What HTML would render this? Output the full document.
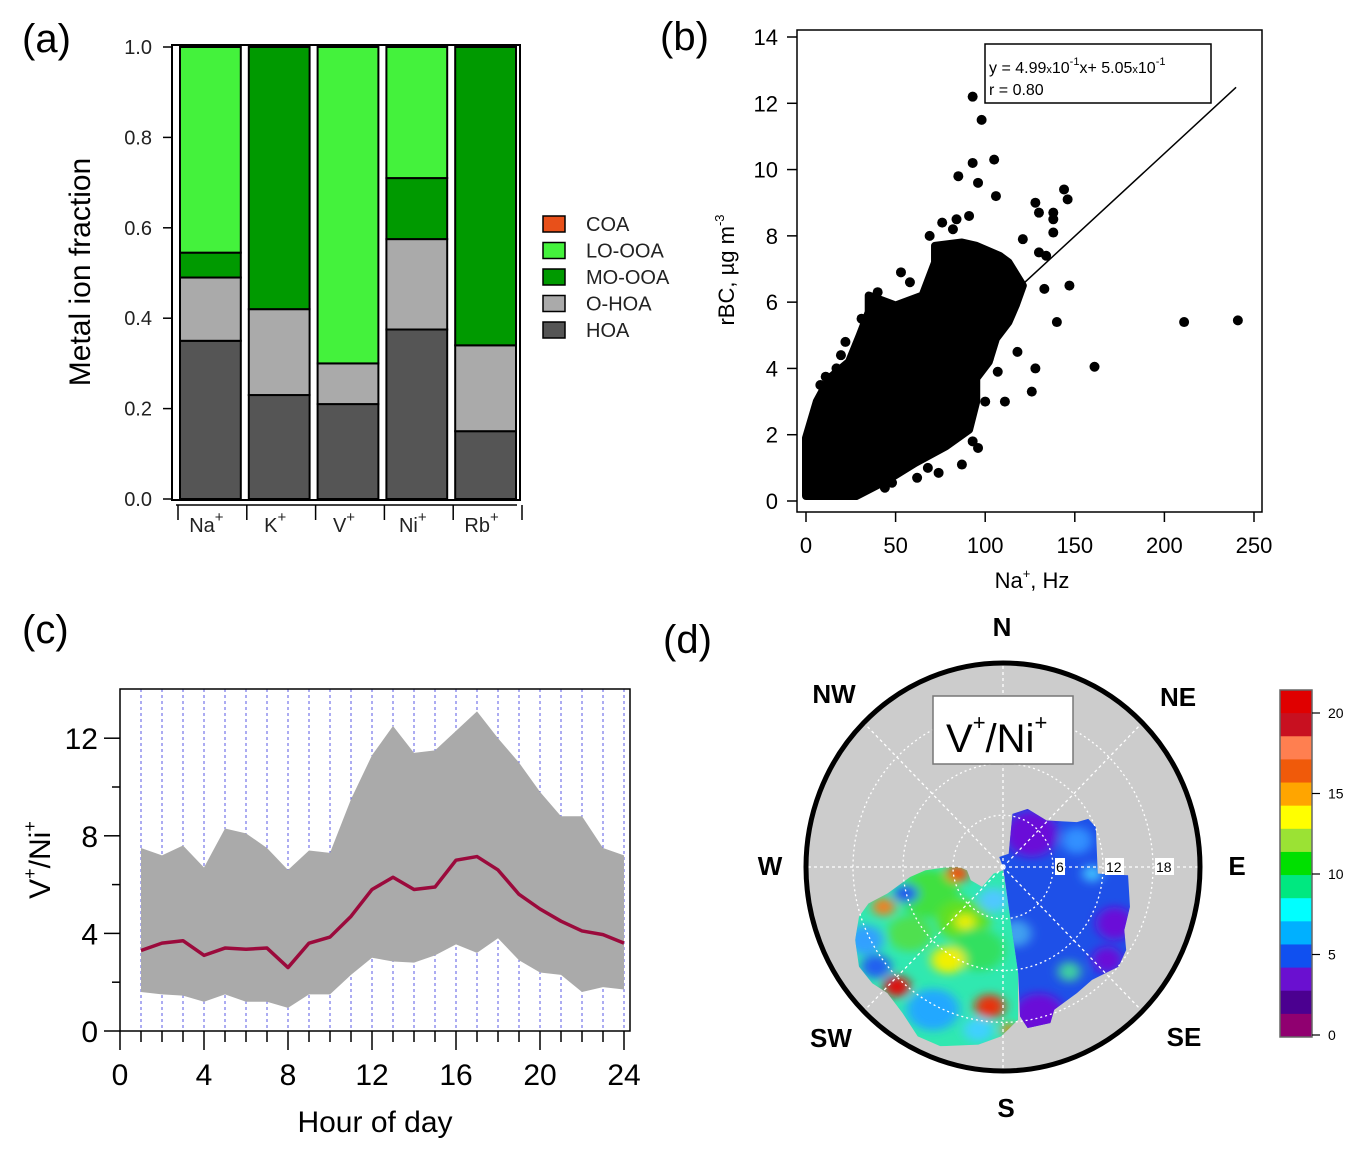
<!DOCTYPE html>
<html><head><meta charset="utf-8"><style>
html,body{margin:0;padding:0;background:#fff;}
svg{display:block;font-family:"Liberation Sans",sans-serif;}
</style></head><body>
<svg id="fig" width="1364" height="1155" viewBox="0 0 1364 1155">
<defs>
<filter id="blur8" x="-20%" y="-20%" width="140%" height="140%"><feGaussianBlur stdDeviation="8"/></filter>
<filter id="blur14" x="-50%" y="-50%" width="200%" height="200%"><feGaussianBlur stdDeviation="14"/></filter>
<clipPath id="westClip"><polygon id="westPolyClip" points=""/></clipPath>
<clipPath id="eastClip"><polygon id="eastPolyClip" points=""/></clipPath>
</defs>
<text x="22" y="52" font-size="40" font-family="Liberation Sans,sans-serif">(a)</text>
<text x="660" y="50" font-size="40">(b)</text>
<text x="22" y="643" font-size="40">(c)</text>
<text x="663" y="653" font-size="40">(d)</text>
<g id="pa"></g>
<g id="pb"></g>
<g id="pc"></g>
<g id="pd"></g>
</svg>
<script>
// ---------- Panel (a) data ----------
const aCategories = ["Na","K","V","Ni","Rb"];
const aSeriesNames = ["HOA","O-HOA","MO-OOA","LO-OOA","COA"];
const aHOA   = [0.35, 0.23, 0.21, 0.375, 0.15];
const aOHOA  = [0.14, 0.19, 0.09, 0.20, 0.19];
const aMOOOA = [0.055,0.58, 0.00, 0.135,0.66];
const aLOOOA = [0.455,0.00, 0.70, 0.29, 0.00];
const aYTicks = [0.0,0.2,0.4,0.6,0.8,1.0];
// ---------- Panel (b) data ----------
const bXTicks = [0,50,100,150,200,250];
const bYTicks = [0,2,4,6,8,10,12,14];
const bCoreX = [0,28,46,61,78,91,95,95,102,106,113,117,121,113,108,95,87,72,72,65,50,35,35,30,24,13,6,0,0];
const bCoreY = [0.15,0.15,0.65,1.15,1.65,2.15,3.0,3.7,4.2,4.9,5.4,5.9,6.5,7.2,7.4,7.7,7.8,7.7,7.2,6.2,5.9,6.2,5.7,5.0,4.2,3.7,3.0,1.9,1.2];
const bPtsX = [93,98,105,93,85,96,106,144,146,128,130,138,138,138,121,130,134,147,133,140,211,241,161,128,118,126,111,96,87,74,68,48,28,19.5,11,31,53,69,76,82,84,91,102,107,100,93,40,58,22,8,115,110,62,44,17,36];
const bPtsY = [12.2,11.5,10.3,10.2,9.8,9.6,9.2,9.4,9.1,9.0,8.7,8.7,8.5,8.1,7.9,7.5,7.4,6.5,6.4,5.4,5.4,5.45,4.05,4.0,4.5,3.3,3.0,1.6,1.1,0.85,1.0,0.55,0.2,4.4,3.75,5.5,6.9,8.0,8.4,8.2,8.5,8.6,4.3,3.9,3.0,1.8,6.3,6.6,4.8,3.5,6.0,6.8,0.7,0.4,4.0,6.0];
const bSlope = 0.0499, bIntercept = 0.505;
// ---------- Panel (c) data ----------
const cHours  = [1,2,3,4,5,6,7,8,9,10,11,12,13,14,15,16,17,18,19,20,21,22,23,24];
const cMedian = [3.3,3.6,3.7,3.1,3.4,3.35,3.4,2.6,3.6,3.85,4.7,5.8,6.3,5.8,5.9,7.0,7.15,6.6,5.6,5.0,4.5,4.1,3.95,3.6];
const cUpper  = [7.5,7.2,7.6,6.7,8.3,8.1,7.5,6.6,7.4,7.3,9.5,11.3,12.5,11.4,11.5,12.3,13.1,12.0,11.0,9.8,8.8,8.8,7.5,7.2];
const cLower  = [1.6,1.5,1.45,1.2,1.5,1.2,1.2,0.95,1.5,1.5,2.3,3.0,2.85,2.8,3.1,3.55,3.2,3.8,2.9,2.4,2.3,1.6,1.8,1.7];
const cXTicks = [0,4,8,12,16,20,24];
const cYTicks = [0,4,8,12];
// ---------- Panel (d) data ----------
const dColorbarTicks = [0,5,10,15,20];
const dColorbarColors = ["#e00000","#c81020","#ff7f50","#f05a0a","#ffa500","#ffff00","#9be234","#00e000","#00e880","#00ffff","#00b0ff","#1050f0","#6a10d0","#4b0090","#900070"];
const dRingLabels = [6,12,18];

const NS="http://www.w3.org/2000/svg";
function mk(parent,tag,attrs,txt){const e=document.createElementNS(NS,tag);for(const k in attrs)e.setAttribute(k,attrs[k]);if(txt!==undefined)e.textContent=txt;parent.appendChild(e);return e;}

// ===== Panel A =====
(function(){
const g=document.getElementById('pa');
const y0=499,y1=47; const ya=v=>y0+(y1-y0)*v;
const left=172,right=520; const slotW=(right-left-4)/5;
const colors={"HOA":"#555555","O-HOA":"#aaaaaa","MO-OOA":"#009a00","LO-OOA":"#44f23c","COA":"#e8501a"};
const series=[aHOA,aOHOA,aMOOOA,aLOOOA];
aCategories.forEach((c,i)=>{
  const x=left+4+i*slotW+4, w=slotW-8; let acc=0;
  series.forEach((s,j)=>{
    const v=s[i]; if(v<=0){return;}
    const r=mk(g,'rect',{x:x,y:ya(acc+v),width:w,height:ya(acc)-ya(acc+v),fill:colors[aSeriesNames[j]],stroke:'#000','stroke-width':2});
    
    
    acc+=v;
  });
  const t=mk(g,'text',{x:x+w/2-4,y:532,'font-size':20,'text-anchor':'middle',fill:'#222'},c);
  
  
  mk(t,'tspan',{dy:-10,'font-size':15},'+');
  const tk=mk(g,'line',{x1:left+4+i*slotW+2,x2:left+4+i*slotW+2,y1:505,y2:520,stroke:'#000','stroke-width':1.5});
  
  
});
mk(g,'line',{x1:left+4+5*slotW+2,x2:left+4+5*slotW+2,y1:505,y2:520,stroke:'#000','stroke-width':1.5});
mk(g,'line',{x1:176,x2:517,y1:505,y2:505,stroke:'#000','stroke-width':1.5});
const fr=mk(g,'rect',{x:left,y:45,width:right-left,height:455,fill:'none',stroke:'#000','stroke-width':2});


aYTicks.forEach(v=>{
  mk(g,'line',{x1:163,x2:left,y1:ya(v),y2:ya(v),stroke:'#000','stroke-width':1.5});
  const t=mk(g,'text',{x:152,y:ya(v)+7,'font-size':20,'text-anchor':'end',fill:'#222'},v.toFixed(1));
  
  
});
const yl=mk(g,'text',{x:0,y:0,'font-size':30,'text-anchor':'middle',transform:'translate(90,272) rotate(-90)'},'Metal  ion  fraction');


const legOrder=["COA","LO-OOA","MO-OOA","O-HOA","HOA"];
legOrder.forEach((n,i)=>{
  const cy=224+i*26.5;
  const b=mk(g,'rect',{x:543,y:cy-8,width:22,height:16,fill:colors[n],stroke:'#000','stroke-width':1.5});
  
  
  const t=mk(g,'text',{x:586,y:cy+7,'font-size':20,fill:'#222'},n);
  
  
});
})();

// ===== Panel B =====
(function(){
const g=document.getElementById('pb');
const xa=v=>806+v*(1254-806)/250, ya=v=>501-v*(501-37)/14;
const fr=mk(g,'rect',{x:797,y:30,width:465,height:482,fill:'none',stroke:'#000','stroke-width':1.5});


let pts=bCoreX.map((x,i)=>xa(x)+','+ya(bCoreY[i])).join(' ');
const core=mk(g,'polygon',{points:pts,fill:'#000',stroke:'#000','stroke-width':8,'stroke-linejoin':'round'});


bPtsX.forEach((x,i)=>{
  const c=mk(g,'circle',{cx:xa(x),cy:ya(bPtsY[i]),r:5,fill:'#000'});
  
  
});
const x1=95,x2=240;
const ln=mk(g,'line',{x1:xa(x1),y1:ya(bSlope*x1+bIntercept),x2:xa(x2),y2:ya(bSlope*x2+bIntercept),stroke:'#000','stroke-width':1.5});


const box=mk(g,'rect',{x:985,y:44,width:226,height:59,fill:'#fff',stroke:'#000','stroke-width':1.5});


const t1=mk(g,'text',{x:989,y:73,'font-size':16},'y = 4.99');
mk(t1,'tspan',{'font-size':11},'x');mk(t1,'tspan',{},'10');mk(t1,'tspan',{dy:-8,'font-size':11},'-1');
mk(t1,'tspan',{dy:8},'x+ 5.05');mk(t1,'tspan',{'font-size':11},'x');mk(t1,'tspan',{},'10');mk(t1,'tspan',{dy:-8,'font-size':11},'-1');
mk(g,'text',{x:989,y:95,'font-size':16},'r = 0.80');
bXTicks.forEach(v=>{
  mk(g,'line',{x1:xa(v),x2:xa(v),y1:512,y2:522,stroke:'#000','stroke-width':1.5});
  const t=mk(g,'text',{x:xa(v),y:553,'font-size':22,'text-anchor':'middle'},v);
  
  
});
bYTicks.forEach(v=>{
  mk(g,'line',{x1:787,x2:797,y1:ya(v),y2:ya(v),stroke:'#000','stroke-width':1.5});
  const t=mk(g,'text',{x:778,y:ya(v)+8,'font-size':22,'text-anchor':'end'},v);
  
  
});
const xl=mk(g,'text',{x:1032,y:588,'font-size':22,'text-anchor':'middle'},'Na');
mk(xl,'tspan',{dy:-10,'font-size':13},'+');mk(xl,'tspan',{dy:10},', Hz');


const yl=mk(g,'text',{x:0,y:0,'font-size':22,'text-anchor':'middle',transform:'translate(734,270) rotate(-90)'},'rBC, µg m');
mk(yl,'tspan',{dy:-10,'font-size':13},'-3');


})();

// ===== Panel C =====
(function(){
const g=document.getElementById('pc');
const xa=v=>120+v*21, ya=v=>1031-v*24.4;
cHours.forEach(h=>{
  const l=mk(g,'line',{x1:xa(h),x2:xa(h),y1:689,y2:1031,stroke:'#3030e0','stroke-width':0.8,'stroke-dasharray':'3,3'});
  
  
});
let up=cHours.map((h,i)=>xa(h)+','+ya(cUpper[i]));
let lo=cHours.map((h,i)=>xa(h)+','+ya(cLower[i])).reverse();
const band=mk(g,'polygon',{points:up.concat(lo).join(' '),fill:'#aaaaaa'});


const med=mk(g,'polyline',{points:cHours.map((h,i)=>xa(h)+','+ya(cMedian[i])).join(' '),fill:'none',stroke:'#9b0a3c','stroke-width':3.5,'stroke-linejoin':'round'});


const fr=mk(g,'rect',{x:120,y:689,width:510,height:342,fill:'none',stroke:'#000','stroke-width':1.5});


for(let h=0;h<=24;h++){const maj=h%4===0;mk(g,'line',{x1:xa(h),x2:xa(h),y1:1031,y2:maj?1050:1042,stroke:'#000','stroke-width':1.5});}
cXTicks.forEach(v=>{const t=mk(g,'text',{x:xa(v),y:1085,'font-size':30,'text-anchor':'middle'},v);
  });
for(let v=0;v<=12;v+=2){mk(g,'line',{x1:v%4===0?104:112,x2:120,y1:ya(v),y2:ya(v),stroke:'#000','stroke-width':1.5});}
cYTicks.forEach(v=>{const t=mk(g,'text',{x:98,y:ya(v)+11,'font-size':30,'text-anchor':'end'},v);
  });
const xl=mk(g,'text',{x:375,y:1132,'font-size':30,'text-anchor':'middle'},'Hour of day');

const yl=mk(g,'text',{x:0,y:0,'font-size':30,'text-anchor':'middle',transform:'translate(50,860) rotate(-90)'},'V');
mk(yl,'tspan',{dy:-14,'font-size':18},'+');mk(yl,'tspan',{dy:14},'/Ni');mk(yl,'tspan',{dy:-14,'font-size':18},'+');

})();

// ===== Panel D =====
(function(){
const g=document.getElementById('pd');
const cx=1003,cy=867,rx=197,ry=204;
const bg=mk(g,'ellipse',{cx:cx,cy:cy,rx:rx,ry:ry,fill:'#cccccc'});

const T='translate(1003,867) scale(0.379,0.332) translate(-665,-680)';
const west=[[665,690],[640,700],[610,740],[580,720],[570,690],[550,680],[520,680],[460,690],[420,710],[360,760],[310,790],[285,830],[275,900],[285,980],[320,1030],[360,1060],[400,1120],[440,1190],[500,1220],[600,1215],[660,1190],[705,1140],[705,1000],[680,800]];
const east=[[665,680],[655,650],[680,640],[690,520],[730,505],[780,540],[860,545],[890,535],[910,560],[915,700],[995,705],[1000,800],[985,870],[990,930],[970,980],[900,1020],[860,1060],[800,1110],[790,1150],[730,1165],[710,1130],[705,1000],[680,800]];
document.getElementById('westPolyClip').setAttribute('points',west.map(p=>p.join(',')).join(' '));
document.getElementById('eastPolyClip').setAttribute('points',east.map(p=>p.join(',')).join(' '));
const fg=mk(g,'g',{transform:T});
const wg=mk(fg,'g',{'clip-path':'url(#westClip)'});

mk(wg,'rect',{x:200,y:600,width:600,height:700,fill:'#30e8b0'});
const wb=mk(wg,'g',{filter:'url(#blur14)'});
[[470,760,80,'#40e040'],[560,840,70,'#60e020'],[600,930,70,'#30e060'],[420,880,60,'#50e050'],[520,960,45,'#f0f000'],[565,845,25,'#f0f000'],[300,900,50,'#30a0ff'],[330,980,40,'#2060f0'],[410,760,30,'#2050f0'],[385,1040,35,'#e01010'],[630,1100,40,'#e83010'],[545,700,30,'#f05010'],[480,1110,70,'#20a8ff'],[600,1170,40,'#40d0ff'],[680,1170,20,'#f08000'],[640,780,40,'#50c8ff'],[350,800,30,'#f08020']].forEach(b=>mk(wb,'ellipse',{cx:b[0],cy:b[1],rx:b[2],ry:b[2]*0.9,fill:b[3]}));
const eg=mk(fg,'g',{'clip-path':'url(#eastClip)'});

mk(eg,'rect',{x:600,y:480,width:450,height:720,fill:'#1e50e8'});
const ebl=mk(eg,'g',{filter:'url(#blur14)'});
[[740,580,70,'#6a10d8'],[960,850,50,'#6a10d8'],[940,960,40,'#6a10d8'],[760,1130,70,'#6a10d8'],[860,600,40,'#3090ff'],[840,995,30,'#40d0a0'],[900,700,25,'#40c0ff'],[700,880,40,'#40a0f0']].forEach(b=>mk(ebl,'ellipse',{cx:b[0],cy:b[1],rx:b[2],ry:b[2],fill:b[3]}));
[50,100,150].forEach(r=>{const c=mk(g,'ellipse',{cx:cx,cy:cy,rx:r,ry:r*ry/rx,fill:'none',stroke:'#fff','stroke-width':1.3,'stroke-dasharray':'2,3'});
  });
for(let k=0;k<8;k++){const a=k*Math.PI/4;mk(g,'line',{x1:cx,y1:cy,x2:cx+rx*Math.cos(a),y2:cy+ry*Math.sin(a),stroke:'#fff','stroke-width':1.3,'stroke-dasharray':'3,3'});}
const ring=mk(g,'ellipse',{cx:cx,cy:cy,rx:rx,ry:ry,fill:'none',stroke:'#000','stroke-width':5});

dRingLabels.forEach((v,i)=>{const x=cx+50*(i+1)+3;mk(g,'rect',{x:x-1,y:858,width:v<10?10:19,height:17,fill:'#fff'});
  const t=mk(g,'text',{x:x,y:872,'font-size':14},v);});
const tb=mk(g,'rect',{x:933,y:696,width:140,height:68,fill:'#fff',stroke:'#777','stroke-width':1.5});

const tt=mk(g,'text',{x:946,y:752,'font-size':40},'V');mk(tt,'tspan',{dy:-22,'font-size':22},'+');mk(tt,'tspan',{dy:22},'/Ni');mk(tt,'tspan',{dy:-22,'font-size':22},'+');

[['N',1002,636],['NE',1178,706],['E',1237,875],['SE',1184,1046],['S',1006,1117],['SW',831,1047],['W',770,875],['NW',834,703]].forEach(d=>{
  const t=mk(g,'text',{x:d[1],y:d[2],'font-size':26,'font-weight':'bold','text-anchor':'middle'},d[0]);
  });
const cbx=1280,cbTop=690,cbBot=1037,cbw=32;
const bh=(cbBot-cbTop)/dColorbarColors.length;
dColorbarColors.forEach((c,i)=>{const r=mk(g,'rect',{x:cbx,y:cbTop+i*bh,width:cbw,height:bh+0.5,fill:c});
  });
mk(g,'rect',{x:cbx,y:cbTop,width:cbw,height:cbBot-cbTop,fill:'none',stroke:'#666','stroke-width':1.5});
const cya=v=>1035-v*(1035-713)/20;
dColorbarTicks.forEach(v=>{mk(g,'line',{x1:cbx+cbw,x2:cbx+cbw+8,y1:cya(v),y2:cya(v),stroke:'#000','stroke-width':1.2});
  const t=mk(g,'text',{x:1328,y:cya(v)+5,'font-size':14},v);});
})();
</script>
</body></html>
